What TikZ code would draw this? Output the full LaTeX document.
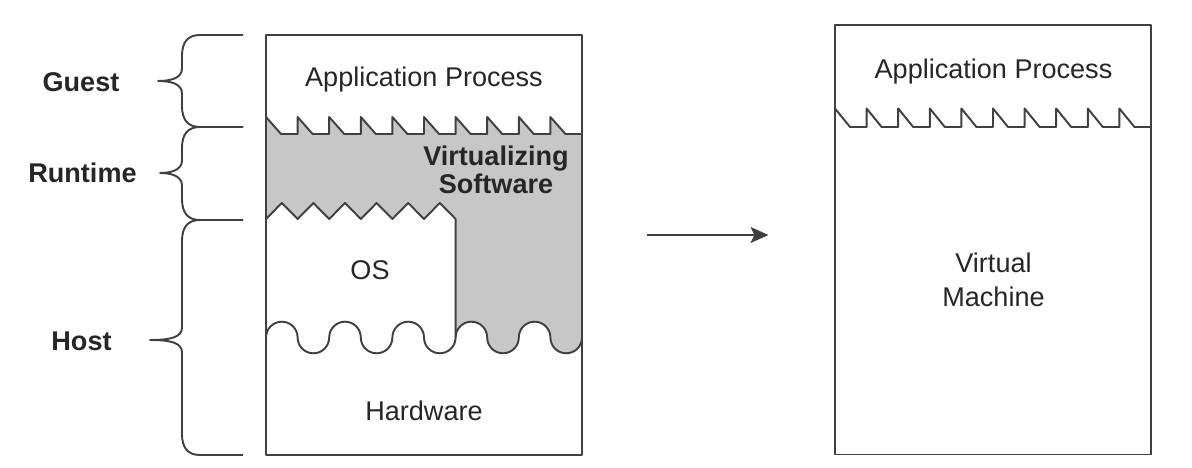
\documentclass[tikz,border=0pt]{standalone}
\usepackage{fontspec}
\setmainfont{Liberation Sans}
\usetikzlibrary{arrows.meta,positioning}

\begin{document}
\begin{tikzpicture}
	\tikzset{
		line/.style={line width=1.1pt,draw=black!75,line join=round},
		lbl/.style={text=black!85,font=\fontsize{15.4}{18}\selectfont},
		layer/.style={text=black!85,font=\fontsize{15.4}{18}\selectfont\bfseries}
	}
	\useasboundingbox (0,0) rectangle (23.84,9.36);
	% shaded runtime layer
	\fill[black!22] (5.32,7.02) \foreach \i in {1,...,9} {-- ++(0.3,-0.34) -- ++(0.332,0) -- ++(0,0.34)} -- ++(0.3,-0.34) -- (11.64,6.68)
		-- (11.64,2.61) \foreach \i in {1,2} {arc[start angle=360,end angle=180,radius=0.316] arc[start angle=0,end angle=180,radius=0.316]}
		-- (9.112,4.98) \foreach \i in {1,...,6} {-- ++(-0.316,0.32) -- ++(-0.316,-0.32)} -- cycle;
	% left side
	\draw[line] (5.32,0.26) rectangle (11.64,8.66);
	\draw[line] (5.32,7.02) \foreach \i in {1,...,9} {-- ++(0.3,-0.34) -- ++(0.332,0) -- ++(0,0.34)} -- ++(0.3,-0.34) -- (11.64,6.68);
	\draw[line] (5.32,4.98) \foreach \i in {1,...,6} {-- ++(0.316,0.32) -- ++(0.316,-0.32)} -- (9.112,2.61);
	\draw[line] (5.32,2.61) \foreach \i in {1,...,5} {arc[start angle=180,end angle=0,radius=0.316] arc[start angle=180,end angle=360,radius=0.316]};
	% right side
	\draw[line] (16.70,0.27) rectangle (23.02,8.86);
	\draw[line] (16.70,7.19) \foreach \i in {1,...,9} {-- ++(0.3,-0.37) -- ++(0.332,0) -- ++(0,0.37)} -- ++(0.3,-0.37) -- (23.02,6.82);
	% braces
	\foreach \yt/\ym/\yb/\tx in {8.66/7.74/6.82/3.16, 6.82/5.90/4.96/3.2, 4.96/2.56/0.26/3.0}
		\draw[line] (4.86,\yt) -- (4.0,\yt) .. controls (3.75,\yt) and (3.64,\yt-0.15) .. (3.64,\yt-0.42)
			-- (3.64,\ym+0.25) .. controls (3.64,\ym+0.05) and (3.4,\ym) .. (\tx,\ym)
			.. controls (3.4,\ym) and (3.64,\ym-0.05) .. (3.64,\ym-0.25)
			-- (3.64,\yb+0.42) .. controls (3.64,\yb+0.15) and (3.75,\yb) .. (4.0,\yb) -- (4.86,\yb);
	\node[layer] (guest) at (1.62,7.72) {Guest};
	\node[layer] (runtime) at (1.65,5.91) {Runtime};
	\node[layer] (host) at (1.63,2.54) {Host};
	\node[lbl] (apphost) at (8.48,7.76) {Application Process};
	\node[layer,align=center] (vsw) at (9.92,5.96) {Virtualizing\\[-2pt]Software};
	\node[lbl] (os) at (7.4,3.96) {OS};
	\node[lbl] (hw) at (8.48,1.14) {Hardware};
	\node[lbl] (appvm) at (19.87,7.92) {Application Process};
	\node[lbl,align=center] (vm) at (19.87,3.76) {Virtual\\[1pt]Machine};
	\coordinate (arrowtail) at (12.93,4.66);
	\coordinate (arrowtip) at (15.37,4.66);
	\draw[line,-{Stealth[length=3.6mm,width=3.2mm,inset=0.8mm]}] (arrowtail) -- (arrowtip);
\end{tikzpicture}
\end{document}
